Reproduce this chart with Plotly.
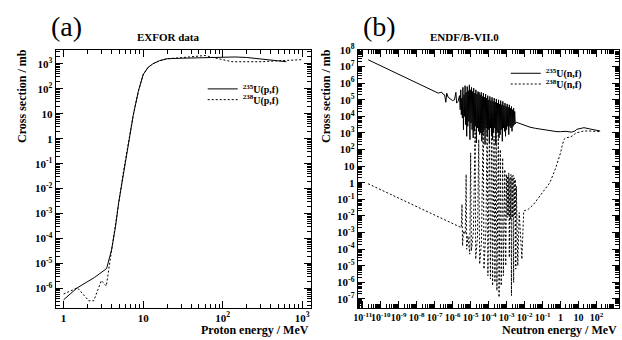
import plotly.graph_objects as go

# ---------------- data: panel (a) EXFOR, proton induced fission ----------------
u235p_E = [1.0, 1.47, 2.46, 3.47, 4.0, 4.5, 4.9, 5.6, 6.5, 7.5, 8.7, 10, 11.5, 13.3, 16, 20,
           30, 50, 70, 100, 143, 200, 300, 450, 630]
u235p_logS = [-6.45, -5.98, -5.55, -5.2, -4.46, -3.5, -2.6, -1.5, -0.24, 0.93, 1.9, 2.57, 2.85,
              3.0, 3.12, 3.2, 3.22, 3.24, 3.25, 3.26, 3.27, 3.25, 3.18, 3.12, 3.08]
u238p_E = [1.0, 1.49, 2.07, 2.39, 2.98, 3.44, 4.04, 4.5, 4.9, 5.6, 6.5, 7.5, 8.7, 10, 11.5, 13.3,
           16, 20, 30, 45, 60, 75, 100, 131, 200, 310, 500, 980]
u238p_logS = [-6.22, -5.97, -6.49, -6.49, -5.68, -5.9, -4.41, -3.4, -2.5, -1.4, -0.2, 0.95, 1.9,
              2.55, 2.85, 3.0, 3.12, 3.2, 3.24, 3.28, 3.33, 3.25, 3.15, 3.08, 3.08, 3.08, 3.12, 3.16]

# ---------------- data: panel (b) ENDF/B-VII.0, neutron induced fission (log10 values) ----------------
u235n_logE = [-10.70, -9.50, -8.50, -7.60, -7.00, -6.80, -6.70, -6.60, -6.52, -6.45, -6.38, -6.33,
              -6.25, -6.10, -6.00, -5.90, -5.82, -5.78, -5.70, -5.62, -5.58,
              -5.55, -5.52, -5.49, -5.46, -5.43, -5.40, -5.37, -5.34, -5.31, -5.28, -5.25, -5.22,
              -5.19, -5.16, -5.13, -5.10, -5.07, -5.04, -5.01, -4.98, -4.95, -4.92, -4.89, -4.86,
              -4.83, -4.80, -4.77, -4.74, -4.71, -4.68, -4.65, -4.62, -4.59, -4.56, -4.53, -4.50,
              -4.47, -4.44, -4.41, -4.38, -4.35, -4.32, -4.29, -4.26, -4.23, -4.20, -4.17, -4.14,
              -4.11, -4.08, -4.05, -4.02, -3.99, -3.96, -3.93, -3.90, -3.87, -3.84, -3.81, -3.78,
              -3.75, -3.72, -3.69, -3.66, -3.63, -3.60, -3.57, -3.54, -3.51, -3.48, -3.45, -3.42,
              -3.39, -3.36, -3.33, -3.30, -3.27, -3.24, -3.21, -3.18, -3.15, -3.12, -3.09, -3.06,
              -3.03, -3.00, -2.97, -2.94, -2.91, -2.88, -2.85, -2.82, -2.79, -2.76, -2.73, -2.70,
              -2.67, -2.64, -2.61, -2.58, -2.55, -2.52,
              -2.47, -2.30, -2.00, -1.70, -1.40, -1.00, -0.50, -0.20, 0.00, 0.30, 0.60, 0.80,
              0.90, 1.15, 1.30, 1.60, 2.00, 2.20]
u235n_logS = [7.41, 6.80, 6.30, 5.85, 5.52, 5.40, 5.44, 5.45, 5.32, 5.30, 4.85, 5.40,
              5.15, 5.05, 4.95, 5.00, 5.45, 4.80, 4.90, 5.25, 4.40,
              5.60, 4.10, 5.10, 3.90, 5.75, 3.20, 5.30, 4.00, 5.85, 3.50, 5.45, 2.80,
              5.80, 3.40, 5.55, 3.70, 5.90, 2.60, 5.60, 3.60, 5.75, 3.20, 5.50, 2.70,
              5.70, 3.10, 5.40, 3.40, 5.60, 2.40, 5.35, 3.30, 5.50, 3.10, 5.45, 2.90,
              5.30, 3.00, 5.45, 2.50, 5.20, 2.90, 5.40, 3.20, 5.15, 2.30, 5.35, 3.30,
              5.10, 2.80, 5.25, 3.20, 5.00, 2.40, 5.20, 3.30, 4.95, 2.90, 5.15, 2.60,
              4.90, 3.00, 5.10, 3.30, 4.85, 2.30, 5.05, 3.10, 4.80, 3.00, 5.00, 2.70,
              4.75, 2.90, 4.95, 3.20, 4.70, 2.50, 4.90, 3.30, 4.65, 3.10, 4.80, 2.80,
              4.60, 3.20, 4.75, 3.40, 4.55, 2.90, 4.70, 3.40, 4.50, 3.30, 4.60, 3.10,
              4.40, 3.40, 4.50, 3.50, 4.30, 3.55,
              3.65, 3.58, 3.45, 3.35, 3.28, 3.20, 3.12, 3.08, 3.08, 3.10, 3.05, 3.12,
              3.22, 3.30, 3.32, 3.25, 3.15, 3.12]

u238n_logE = [-10.70, -9.00, -7.60, -6.50, -5.60, -5.52, -5.48, -5.45, -5.40, -5.30, -5.25,
              -5.22, -5.15, -5.05, -5.00, -4.96, -4.85, -4.75, -4.72, -4.62, -4.55, -4.50,
              -4.40, -4.30, -4.26, -4.15, -4.08, -4.04, -3.95, -3.90, -3.82, -3.78, -3.70,
              -3.65, -3.58, -3.54, -3.46, -3.42, -3.35, -3.30, -3.22, -3.18, -3.10, -3.05,
              -3.00, -2.97, -2.94, -2.91, -2.88, -2.85, -2.82, -2.79, -2.76, -2.73, -2.70,
              -2.67, -2.64, -2.61, -2.58, -2.55, -2.52, -2.49, -2.46, -2.42, -2.38, -2.30,
              -2.15, -2.05, -1.80, -1.50, -1.00, -0.60, -0.30, -0.10, 0.00, 0.10, 0.20,
              0.30, 0.50, 0.70, 0.85, 1.15, 1.30, 1.60, 2.00, 2.20]
u238n_logS = [-0.06, -0.91, -1.61, -2.16, -2.61, -2.70, -1.30, -3.80, -2.90, -3.10, 0.50,
              -4.00, -3.20, -4.30, 1.80, -4.10, -3.00, 3.20, -4.60, -3.30, 2.60, -4.90,
              -3.60, 4.00, -5.20, -2.80, 4.40, -5.60, 3.60, -5.80, 4.30, -6.20, 2.80,
              -6.00, 4.10, -6.50, 3.20, -6.90, 2.00, -6.20, 1.50, -5.60, 0.80, -5.00,
              0.50, -2.10, 0.40, -2.00, 0.60, -4.50, 0.30, -2.20, 0.50, -6.80, 0.40,
              -2.10, 0.45, -6.00, 0.30, -2.00, 0.20, -5.20, -0.20, -2.00, -5.00, -1.80,
              -4.60, -1.70, -1.60, -1.30, -0.60, 0.00, 0.80, 1.40, 1.80, 2.30, 2.62,
              2.72, 2.74, 2.85, 3.00, 3.08, 3.12, 3.12, 3.08, 3.08]

# tick labels
a_xticks = [1, 10, 100, 1000]
a_xtext = ["1", "10", "10<sup>2</sup>", "10<sup>3</sup>"]
a_yexp = list(range(-6, 4))
b_xexp = list(range(-11, 3))
b_yexp = list(range(-7, 9))


def lab(k):
    if k == 0:
        return "1"
    if k == 1:
        return "10"
    return "10<sup>%d</sup>" % k


def minors(lo, hi):
    return [m * 10.0 ** k for k in range(lo, hi + 1) for m in range(2, 10)]


SERIF = "Liberation Serif"
fig = go.Figure()

fig.add_trace(go.Scatter(x=u235p_E, y=[10 ** v for v in u235p_logS], mode="lines",
                         line=dict(color="black", width=1), name="<sup>235</sup>U(p,f)",
                         xaxis="x", yaxis="y", legend="legend"))
fig.add_trace(go.Scatter(x=u238p_E, y=[10 ** v for v in u238p_logS], mode="lines",
                         line=dict(color="black", width=1, dash="2px,2px"), name="<sup>238</sup>U(p,f)",
                         xaxis="x", yaxis="y", legend="legend2"))
fig.add_trace(go.Scatter(x=[10 ** v for v in u235n_logE], y=[10 ** v for v in u235n_logS], mode="lines",
                         line=dict(color="black", width=1), name="<sup>235</sup>U(n,f)",
                         xaxis="x2", yaxis="y2", legend="legend3"))
fig.add_trace(go.Scatter(x=[10 ** v for v in u238n_logE], y=[10 ** v for v in u238n_logS], mode="lines",
                         line=dict(color="black", width=1, dash="2px,2px"), name="<sup>238</sup>U(n,f)",
                         xaxis="x2", yaxis="y2", legend="legend4"))

W, H = 622, 340
tickfont = dict(family=SERIF, size=11, color="black", weight="bold")
common = dict(type="log", showline=True, linecolor="black", linewidth=1, mirror="ticks",
              ticks="inside", ticklen=7, tickcolor="black", showgrid=False, zeroline=False,
              tickfont=tickfont, tickangle=0, tickmode="array")


def leg(xpx, ypx):
    return dict(x=xpx / W, y=1 - ypx / H, xanchor="left", yanchor="top", bgcolor="rgba(0,0,0,0)",
                font=dict(family=SERIF, size=10, color="black", weight="bold"), itemwidth=30)


ydom = [1 - 307 / H, 1 - 43 / H]
fig.update_layout(
    width=W, height=H, margin=dict(l=0, r=0, t=0, b=0),
    paper_bgcolor="white", plot_bgcolor="white",
    xaxis=dict(common, domain=[52 / W, 309 / W], range=[-0.1, 3.11],
               tickvals=a_xticks, ticktext=a_xtext, anchor="y",
               minor=dict(tickmode="array", tickvals=minors(0, 3), ticks="inside", ticklen=4,
                          tickcolor="black", showgrid=False)),
    yaxis=dict(common, domain=ydom, range=[-6.77, 3.55], anchor="x",
               tickvals=[10.0 ** k for k in a_yexp], ticktext=[lab(k) for k in a_yexp],
               minor=dict(tickmode="array", tickvals=minors(-7, 3), ticks="inside", ticklen=4,
                          tickcolor="black", showgrid=False)),
    xaxis2=dict(common, domain=[356 / W, 619 / W], range=[-11.28, 3.25], anchor="y2",
                tickvals=[10.0 ** k for k in b_xexp], ticktext=[lab(k) for k in b_xexp],
                tickfont=dict(tickfont, size=10),
                minor=dict(tickmode="array", tickvals=minors(-12, 3), ticks="inside", ticklen=4,
                           tickcolor="black", showgrid=False)),
    yaxis2=dict(common, domain=ydom, range=[-7.53, 8.0], anchor="x2",
                tickvals=[10.0 ** k for k in b_yexp], ticktext=[lab(k) for k in b_yexp],
                minor=dict(tickmode="array", tickvals=minors(-8, 8), ticks="inside", ticklen=4,
                           tickcolor="black", showgrid=False)),
    legend=leg(200, 68),
    legend2=leg(200, 79),
    legend3=leg(505, 52),
    legend4=leg(505, 63),
    showlegend=True,
)

ann = [
    dict(text="(a)", x=63 / W, y=1 - 19 / H, font=dict(family=SERIF, size=28)),
    dict(text="<b>EXFOR data</b>", x=166 / W, y=1 - 30 / H, font=dict(family=SERIF, size=11)),
    dict(text="(b)", x=378 / W, y=1 - 19 / H, font=dict(family=SERIF, size=28)),
    dict(text="<b>ENDF/B-VII.0</b>", x=463 / W, y=1 - 30 / H, font=dict(family=SERIF, size=11)),
]
for a in ann:
    fig.add_annotation(xref="paper", yref="paper", showarrow=False, xanchor="center",
                       yanchor="middle", font_color="black", **a)

for xx in (18, 324):
    fig.add_annotation(text="<b>Cross section / mb</b>", xref="paper", yref="paper",
                       x=xx / W, y=1 - 40 / H, xanchor="center", yanchor="top", textangle=-90,
                       showarrow=False, font=dict(family=SERIF, size=12, color="black"))
fig.add_annotation(text="<b>Proton energy / MeV</b>", xref="paper", yref="paper",
                   x=309 / W, y=1 - 330 / H, xanchor="right", yanchor="middle", showarrow=False,
                   font=dict(family=SERIF, size=12, color="black"))
fig.add_annotation(text="<b>Neutron energy / MeV</b>", xref="paper", yref="paper",
                   x=619 / W, y=1 - 330 / H, xanchor="right", yanchor="middle", showarrow=False,
                   font=dict(family=SERIF, size=12, color="black"))

fig.write_html("out.html")
